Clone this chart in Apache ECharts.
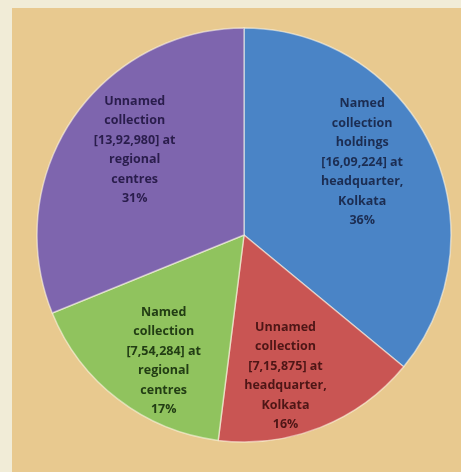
<!DOCTYPE html>
<html>
<head>
<meta charset="utf-8">
<script src="https://cdn.jsdelivr.net/npm/echarts@6/dist/echarts.min.js"></script>
<style>
  html, body { margin: 0; padding: 0; background: #f1ecd7; }
  #chart { width: 461px; height: 472px; }
</style>
</head>
<body>
<div id="chart"></div>
<script>
// slice data, clockwise from 12 o'clock
const labelHeads = ['Named\ncollection\nholdings', 'Unnamed\ncollection', 'Named\ncollection', 'Unnamed\ncollection'];
const labelTails = ['headquarter,\nKolkata', 'headquarter,\nKolkata', 'regional\ncentres', 'regional\ncentres'];
const values = [1609224, 715875, 754284, 1392980];
const sliceColors = ['#4a84c6', '#c95553', '#90c35e', '#7e65ae'];
const textColors = ['#1c2d52', '#4e1616', '#223d14', '#2a1d4c'];

// small nudges so labels sit like the excel best-fit ones
const labelNudge = [[-13, -11], [-12, 6], [8, 11], [11, -4]];

// indian digit grouping, e.g. 16,09,224
function inr(n) {
  const s = String(n);
  const last3 = s.slice(-3);
  const rest = s.slice(0, -3);
  return rest ? rest.replace(/\B(?=(\d{2})+(?!\d))/g, ',') + ',' + last3 : last3;
}

const pieData = values.map((v, i) => ({
  value: v,
  name: labelHeads[i] + '\n[' + inr(v) + '] at\n' + labelTails[i],
  itemStyle: { color: sliceColors[i] },
  label: { color: textColors[i] }
}));

const chart = echarts.init(document.getElementById('chart'));
chart.setOption({
  animation: false,
  graphic: [
    {
      type: 'rect',
      left: 12, top: 8,
      shape: { width: 449, height: 464 },
      style: { fill: '#e8c98f' },
      z: -10
    }
  ],
  series: [
    {
      type: 'pie',
      center: [244, 235],
      radius: [0, 207],
      startAngle: 90,
      clockwise: true,
      label: { show: false },
      labelLine: { show: false },
      itemStyle: { borderColor: 'rgba(255,250,235,0.55)', borderWidth: 1.5 },
      data: pieData
    },
    {
      type: 'pie',
      center: [244, 235],
      radius: [77, 207],
      startAngle: 90,
      clockwise: true,
      silent: true,
      percentPrecision: 0,
      itemStyle: { color: 'transparent' },
      labelLine: { show: false },
      label: {
        show: true,
        position: 'inside',
        formatter: '{b}\n{d}%',
        fontFamily: 'Open Sans',
        fontSize: 12.5,
        fontWeight: 'bold',
        lineHeight: 19.5,
        align: 'center'
      },
      labelLayout: function (p) {
        return { dx: labelNudge[p.dataIndex][0], dy: labelNudge[p.dataIndex][1] };
      },
      data: pieData.map(d => ({ value: d.value, name: d.name, label: d.label, itemStyle: { color: 'transparent' } }))
    }
  ]
});
</script>
</body>
</html>
